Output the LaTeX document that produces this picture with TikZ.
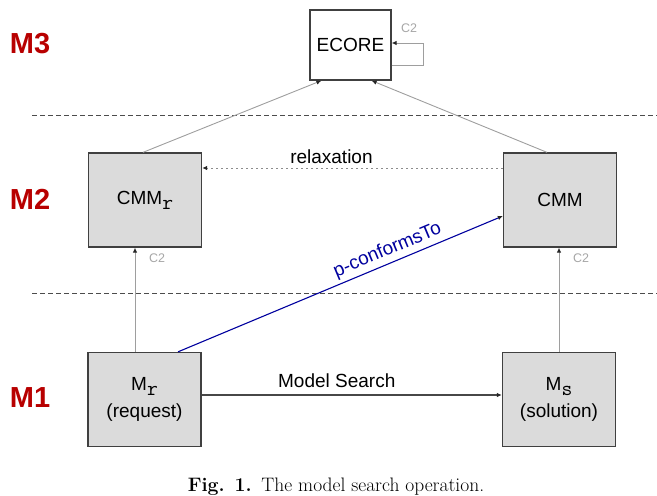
\documentclass[tikz,border=0pt]{standalone}
\usepackage{fontspec}
\setsansfont{Liberation Sans}
\usetikzlibrary{arrows.meta,positioning}

\newcommand{\subcode}[1]{\raisebox{-5pt}{\ttfamily\fontsize{21}{23}\selectfont #1}}

\begin{document}
\begin{tikzpicture}[x=1pt,y=-1pt,
  >={Latex[length=5pt,width=4.5pt,color=black!85]},
  model/.style={draw=black!75,fill=black!14,line width=1.3pt,inner sep=0pt,
    align=center,font=\sffamily\fontsize{19}{27}\selectfont,
    minimum width=113pt,minimum height=94pt},
  meta/.style={draw=black!75,fill=white,line width=1.3pt,inner sep=0pt,
    font=\sffamily\fontsize{19}{23}\selectfont,
    minimum width=81pt,minimum height=70pt},
  level/.style={text=red!72!black,font=\sffamily\bfseries\fontsize{29}{30}\selectfont},
  cnote/.style={text=black!35,font=\sffamily\fontsize{12.5}{14}\selectfont},
  edgetext/.style={font=\sffamily\fontsize{19}{22}\selectfont},
  conforms/.style={draw=black!38,line width=.9pt,->},
  relax/.style={draw=black!45,line width=1pt,dash pattern=on 2pt off 3pt,->},
  search/.style={draw=black!72,line width=1.1pt,->},
  pconf/.style={draw=blue!62!black,line width=1.1pt,->},
  sepline/.style={draw=black!70,line width=1pt,dash pattern=on 5pt off 3pt}]

\useasboundingbox (0,0) rectangle (657,496);

% levels
\node[level] (m3) at (30,44) {M3};
\node[level] (m2) at (30,199) {M2};
\node[level] (m1) at (30,398) {M1};

\coordinate (sepAl) at (32,115);
\coordinate (sepAr) at (657,115);
\coordinate (sepBl) at (32,293);
\coordinate (sepBr) at (657,293);
\draw[sepline] (sepAl) -- (sepAr);
\draw[sepline] (sepBl) -- (sepBr);

% models
\node[meta] (ecore) at (350.5,45) {ECORE};
\node[model] (cmmr) at (145,200) {CMM\subcode{r}};
\node[model] (cmm) at (560,200) {CMM};
\node[model] (mr) at (144.5,399.5) {M\subcode{r}\\(request)};
\node[model] (ms) at (559,399.5) {M\subcode{s}\\(solution)};

\node[cnote] (c2e) at (409,28) {C2};
\node[cnote] (c2r) at (157,258) {C2};
\node[cnote] (c2s) at (581,258) {C2};

% conformance
\draw[conforms] ([xshift=-2pt]cmmr.north) -- ([xshift=12pt]ecore.south west);
\draw[conforms] ([xshift=-13pt]cmm.north) -- ([xshift=-20pt]ecore.south east);
\draw[conforms] ([yshift=-20pt]ecore.east) -- ++(32,0) |- ([yshift=2pt]ecore.east);
\draw[conforms] ([xshift=-9.5pt]mr.north) -- ([xshift=-9.5pt]mr.north |- cmmr.south);
\draw[conforms] (ms.north) -- (ms.north |- cmm.south);

\draw[relax] ([yshift=32pt]cmm.west) -- ([yshift=32pt]cmmr.east)
  node[edgetext,pos=.57,above=0pt] {relaxation};
\draw[search] ([yshift=4.5pt]mr.east) -- ([yshift=4.5pt]ms.west)
  node[edgetext,pos=.45,above=3pt] {Model Search};
\draw[pconf] ([xshift=33.5pt]mr.north) -- ([yshift=-16pt]cmm.west)
  node[edgetext,text=blue!62!black,pos=.66,sloped,above=0pt] {p-conformsTo};

\node[font=\rmfamily\fontsize{19.5}{21}\selectfont] (caption) at (336,487)
  {\textbf{Fig. 1.}\enspace The model search operation.};
\end{tikzpicture}
\end{document}
